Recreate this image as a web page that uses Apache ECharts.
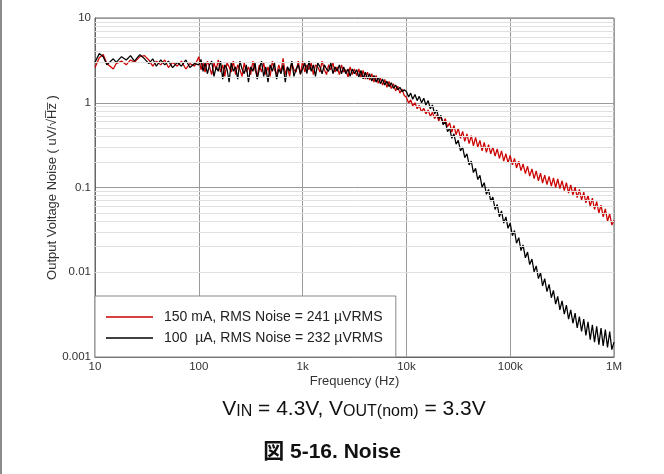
<!DOCTYPE html>
<html><head><meta charset="utf-8">
<script src="https://cdn.jsdelivr.net/npm/echarts@6/dist/echarts.min.js"></script>
<style>html,body{margin:0;padding:0;background:#fff}#c{width:664px;height:474px}</style>
</head><body><div id="c"></div>
<script>
const freqHz = [
  10,11,12,13,15,16,18,20,22,24,27,30,33,36,39,43,47,51,56,62,68,75,82,91,
  100,105,110,115,121,127,133,140,147,154,162,170,178,187,196,205,215,226,237,249,261,274,287,301,316,332,348,365,383,402,422,442,464,487,511,536,562,590,619,649,681,715,750,787,825,866,909,953,
  1000,1050,1100,1150,1210,1270,1330,1400,1470,1540,1620,1700,1780,1870,1960,2050,2150,2260,2370,2490,2610,2740,2870,3010,3160,3320,3480,3650,3830,4020,4220,4420,4640,4870,5110,5360,5620,5900,6190,6490,6810,7150,7500,7870,8250,8660,9090,9530,
  10000,10500,11000,11500,12100,12700,13300,14000,14700,15400,16200,17000,17800,18700,19600,20500,21500,22600,23700,24900,26100,27400,28700,30100,31600,33200,34800,36500,38300,40200,42200,44200,46400,48700,51100,53600,56200,59000,61900,64900,68100,71500,75000,78700,82500,86600,90900,95300,
  100000,105000,110000,115000,121000,127000,133000,140000,147000,154000,162000,170000,178000,187000,196000,205000,215000,226000,237000,249000,261000,274000,287000,301000,316000,332000,348000,365000,383000,402000,422000,442000,464000,487000,511000,536000,562000,590000,619000,649000,681000,715000,750000,787000,825000,866000,909000,953000,1000000
];
const red150mA = [
  2.6,3.4,3.7,2.9,2.5,2.9,3.1,2.8,3.2,3.0,3.5,3.6,3.2,2.7,3.1,2.8,3.2,2.6,3.0,2.7,3.1,2.5,2.9,2.7,
  3.5,2.45,2.95,2.3,3.1,2.65,2.15,2.95,2.45,3.2,2.3,2.8,2.05,2.95,2.65,2.3,3.1,2.15,2.8,2.45,2.05,2.95,2.3,2.65,2.15,3.1,2.45,2.05,2.8,2.3,2.95,2.15,2.65,2.05,3.1,2.45,2.15,2.8,2.3,3.35,2.15,2.65,2.05,2.95,2.45,2.3,3.1,2.15,
  3.1,2.3,2.8,2.45,2.95,2.15,2.8,2.65,2.3,3.1,2.45,2.15,2.8,2.45,2.95,2.3,2.65,2.15,2.8,2.3,2.45,2.0,2.65,2.15,2.5,2.1,2.5,2.0,2.4,1.9,2.3,1.85,2.2,1.75,2.1,1.7,1.95,1.62,1.88,1.52,1.78,1.47,1.68,1.38,1.57,1.3,1.45,1.22,
  1.16,0.99,1.08,0.92,1.00,0.85,0.93,0.78,0.86,0.74,0.82,0.69,0.77,0.65,0.72,0.61,0.69,0.57,0.65,0.52,0.58,0.45,0.54,0.42,0.50,0.38,0.46,0.35,0.43,0.33,0.41,0.31,0.39,0.30,0.36,0.27,0.34,0.26,0.32,0.25,0.30,0.235,0.285,0.22,0.27,0.205,0.25,0.195,
  0.24,0.185,0.22,0.17,0.205,0.158,0.19,0.146,0.178,0.136,0.166,0.127,0.157,0.12,0.148,0.113,0.14,0.108,0.135,0.104,0.13,0.1,0.126,0.097,0.12,0.092,0.114,0.086,0.107,0.082,0.101,0.076,0.095,0.071,0.088,0.066,0.081,0.06,0.075,0.055,0.068,0.05,0.062,0.045,0.056,0.04,0.049,0.036,0.041
];
const black100uA = [
  3.0,3.8,3.5,2.8,3.3,3.0,3.5,3.2,3.6,3.1,3.7,3.3,2.9,3.3,2.7,3.2,2.8,3.1,2.6,3.0,2.7,3.2,2.6,2.9,
  2.8,3.25,2.35,2.95,2.2,2.8,3.1,2.05,2.65,2.35,3.1,1.9,2.8,2.5,1.75,2.95,2.35,2.65,1.9,3.1,2.5,2.2,2.8,1.75,2.65,2.35,2.95,1.9,2.5,3.1,2.05,2.65,1.75,2.8,2.35,2.95,1.9,2.5,2.2,2.8,1.75,2.65,2.35,3.1,2.05,2.5,2.8,2.2,
  2.5,2.95,2.2,3.1,2.35,2.8,2.05,2.95,2.65,2.2,2.8,2.5,2.35,2.95,2.2,2.65,2.35,2.8,2.2,2.65,2.2,2.5,2.05,2.5,2.2,2.45,2.0,2.4,1.92,2.3,1.9,2.2,1.8,2.1,1.75,2.0,1.68,1.9,1.62,1.8,1.55,1.72,1.48,1.62,1.42,1.52,1.35,1.42,
  1.36,1.17,1.30,1.10,1.25,1.06,1.19,1.00,1.13,0.94,1.06,0.85,0.94,0.74,0.82,0.65,0.71,0.55,0.60,0.455,0.50,0.38,0.43,0.325,0.36,0.27,0.30,0.225,0.25,0.185,0.205,0.15,0.168,0.124,0.139,0.101,0.114,0.083,0.095,0.069,0.077,0.055,0.063,0.045,0.053,0.038,0.045,0.033,
  0.038,0.027,0.031,0.022,0.0256,0.018,0.021,0.0148,0.0173,0.0123,0.0143,0.0101,0.0119,0.0084,0.0099,0.0069,0.0084,0.0059,0.0072,0.005,0.0061,0.0042,0.0052,0.0036,0.0046,0.0032,0.0041,0.0028,0.0036,0.0025,0.0033,0.0022,0.003,0.002,0.0028,0.0018,0.0026,0.0016,0.0024,0.0015,0.0023,0.0014,0.0022,0.00135,0.0021,0.0013,0.002,0.00122,0.0015
];
const seriesNames = ['150 mA, RMS Noise = 241 µVRMS', '100  µA, RMS Noise = 232 µVRMS'];
const xTickLabels = ['10', '100', '1k', '10k', '100k', '1M'];
const yTickLabels = ['0.001', '0.01', '0.1', '1', '10'];
const yMinorGrid = [
  0.002,0.003,0.004,0.005,0.006,0.007,0.008,0.009,
  0.02,0.03,0.04,0.05,0.06,0.07,0.08,0.09,
  0.2,0.3,0.4,0.5,0.6,0.7,0.8,0.9,
  2,3,4,5,6,7,8,9
];

const zip = (xs, ys) => xs.map((x, i) => [x, ys[i]]);
const FONT = "'Liberation Sans', Arial, sans-serif";
const chart = echarts.init(document.getElementById('c'), null, {renderer: 'canvas'});
chart.setOption({
  animation: false,
  backgroundColor: '#fff',
  textStyle: {fontFamily: FONT},
  grid: {left: 95, right: 50, top: 18, bottom: 117, show: true, borderColor: '#666', borderWidth: 1, backgroundColor: '#fff'},
  xAxis: {
    type: 'log', logBase: 10, min: 10, max: 1e6,
    axisLine: {show: true, lineStyle: {color: '#666'}},
    axisTick: {show: false},
    axisLabel: {fontSize: 11.5, color: '#333', margin: 4, fontFamily: FONT,
      formatter: v => xTickLabels[Math.round(Math.log10(v)) - 1]},
    splitLine: {show: true, lineStyle: {color: '#9a9a9a', width: 1}},
    name: 'Frequency (Hz)', nameLocation: 'middle', nameGap: 18, nameMoveOverlap: false,
    nameTextStyle: {fontSize: 13, color: '#333', fontFamily: FONT}
  },
  yAxis: {
    type: 'log', logBase: 10, min: 0.001, max: 10,
    axisLine: {show: true, lineStyle: {color: '#666'}},
    axisTick: {show: false},
    axisLabel: {fontSize: 11.5, color: '#333', margin: 4, fontFamily: FONT,
      formatter: v => yTickLabels[Math.round(Math.log10(v)) + 3]},
    splitLine: {show: true, lineStyle: {color: '#9a9a9a', width: 1}},
    name: 'Output Voltage Noise ( uV/\u221AH\u0305z\u0305 )', nameLocation: 'middle', nameGap: 36, nameRotate: 90, nameMoveOverlap: false,
    nameTextStyle: {fontSize: 13, color: '#333', fontFamily: FONT}
  },
  legend: {
    data: seriesNames, orient: 'vertical', left: 95, top: 296,
    icon: 'path://M0,0L47,0L47,1.5L0,1.5Z',
    itemWidth: 47, itemHeight: 14, itemGap: 7,
    padding: [14, 13, 12, 11],
    backgroundColor: '#fff', borderColor: '#888', borderWidth: 1, borderRadius: 0,
    formatter: name => '{t|' + name + '}',
    textStyle: {fontSize: 14, color: '#222', fontFamily: FONT,
      rich: {t: {fontSize: 14, color: '#222', fontFamily: FONT, padding: [0, 0, 0, 6]}}}
  },
  graphic: [
    {type: 'rect', shape: {x: 0, y: 0, width: 2, height: 474}, style: {fill: '#8c8c8c'}},
    {type: 'text', style: {
      x: 354, y: 399, align: 'center', verticalAlign: 'top',
      text: '{m|V}{s|IN}{m| = 4.3V, V}{s|OUT(nom)}{m| = 3.3V}',
      rich: {
        m: {fontSize: 21, lineHeight: 21, fontFamily: FONT, fill: '#111', verticalAlign: 'top'},
        s: {fontSize: 16, lineHeight: 16, fontFamily: FONT, fill: '#111', padding: [8, 0, 0, 0], verticalAlign: 'bottom'}
      }
    }},
    {type: 'text', style: {
      x: 332, y: 452, align: 'center', verticalAlign: 'middle',
      text: '図 5-16. Noise',
      font: "bold 21px 'Liberation Sans', 'Noto Sans CJK JP', Arial, sans-serif",
      fill: '#111'
    }}
  ],
  series: [
    {
      type: 'line', name: 'minor-grid', data: [], z: 1, silent: true,
      markLine: {silent: true, symbol: ['none', 'none'], label: {show: false}, animation: false,
        lineStyle: {color: '#e0e0e0', type: 'solid', width: 1},
        data: yMinorGrid.map(v => ({yAxis: v}))}
    },
    {
      type: 'line', name: seriesNames[0], data: zip(freqHz, red150mA),
      showSymbol: false, symbol: 'none', z: 3,
      lineStyle: {color: '#cc0000', width: 1.25}, itemStyle: {color: '#cc0000'}
    },
    {
      type: 'line', name: seriesNames[1], data: zip(freqHz, black100uA),
      showSymbol: false, symbol: 'none', z: 4,
      lineStyle: {color: '#000', width: 1.25}, itemStyle: {color: '#000'}
    }
  ]
});
</script>
</body></html>
